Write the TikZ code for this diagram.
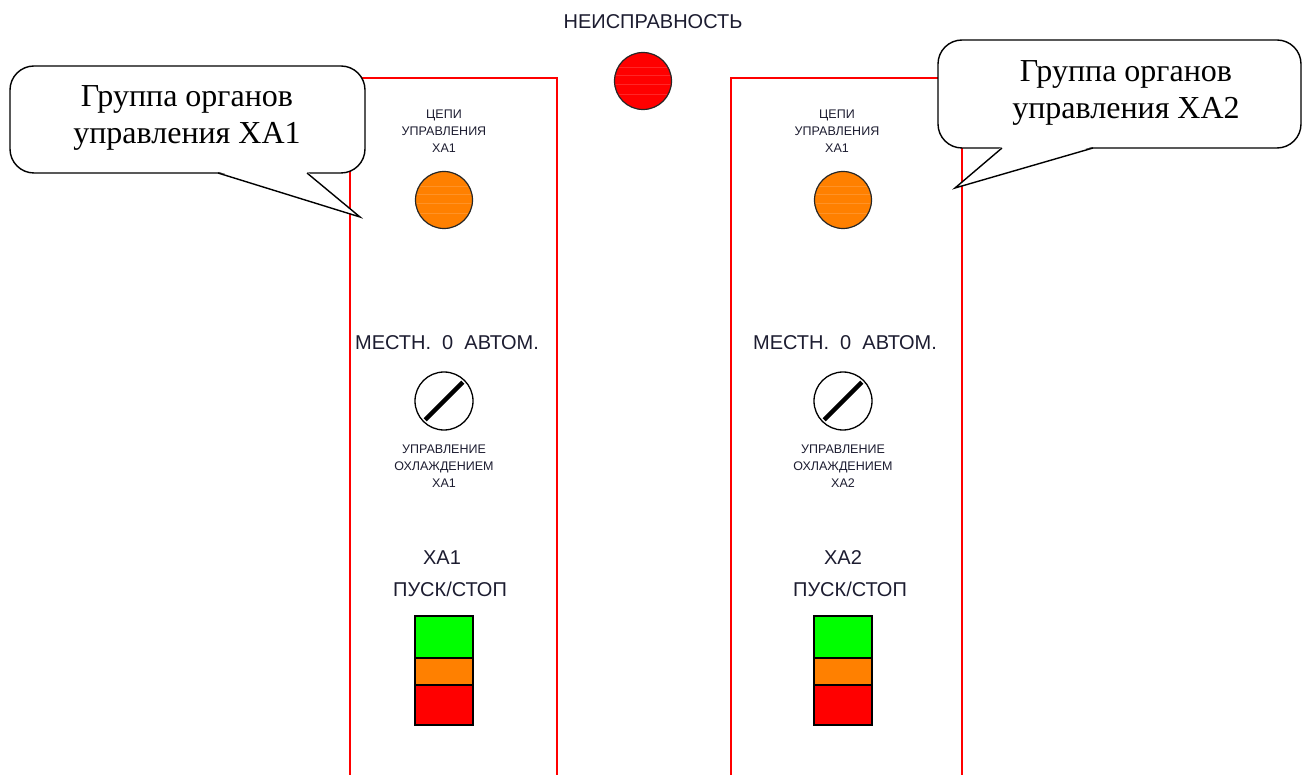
\documentclass[tikz,border=0pt]{standalone}
\usepackage{fontspec}
\setmainfont{Liberation Serif}
\newfontfamily\sansf{Liberation Sans}
\usetikzlibrary{calc}
\definecolor{ink}{RGB}{28,28,48}
\definecolor{lampred}{RGB}{255,0,0}
\definecolor{lamporange}{RGB}{255,128,0}
\definecolor{btngreen}{RGB}{0,255,0}
\definecolor{btnorange}{RGB}{255,128,0}
\definecolor{btnred}{RGB}{255,0,0}
\definecolor{panelred}{RGB}{255,0,0}
\begin{document}
\begin{tikzpicture}[x=1pt,y=-1pt,
  panel/.style={draw=panelred,line width=1.6pt},
  calloutbox/.style={draw=black,fill=white,line width=1.4pt,rounded corners=24pt,inner sep=0pt},
  callouttext/.style={font=\fontsize{32}{37}\selectfont,align=center,text=black},
  tailline/.style={draw=black,line width=1.4pt,line join=miter},
  lamp/.style={circle,draw=black!85,line width=1.2pt,minimum size=57pt,inner sep=0pt,
    path picture={\foreach \d in {-13,-3,6,14}{\draw[white,opacity=0.15,line width=0.7pt] ([yshift=\d pt]path picture bounding box.west) -- ([yshift=\d pt]path picture bounding box.east);}}},
  smalltext/.style={font=\sansf\fontsize{12.5}{17}\selectfont,align=center,text=ink},
  lbl/.style={font=\sansf\fontsize{20}{24}\selectfont,text=ink},
  switchbody/.style={circle,draw=black,line width=1.3pt,minimum size=58pt,inner sep=0pt,fill=white},
  switchbar/.style={line width=4.5pt,draw=black},
  btn/.style={draw=black,line width=1.8pt,minimum width=58pt,inner sep=0pt,outer sep=0pt,anchor=north},
]
\useasboundingbox (0,0) rectangle (1304,775);

% panels
\draw[panel] (350,776) -- (350,78) -- (557,78) -- (557,776);
\draw[panel] (731,776) -- (731,78) -- (962,78) -- (962,776);

% fault lamp
\node[lbl] (fault) at (653,22) {НЕИСПРАВНОСТЬ};
\node[lamp,fill=lampred] (L0) at (643,81) {};

% left group
\node[smalltext] (c1t) at (444,131) {ЦЕПИ\\УПРАВЛЕНИЯ\\ХА1};
\node[lamp,fill=lamporange] (L1) at (444,200) {};
\node[lbl] (m1) at (447,343) {МЕСТН.\ \ 0\ \ АВТОМ.};
\node[switchbody] (sw1) at (444,401) {};
\draw[switchbar] ($(sw1.center)!0.9!(sw1.225)$) -- ($(sw1.center)!0.9!(sw1.45)$);
\node[smalltext] (u1) at (444,466) {УПРАВЛЕНИЕ\\ОХЛАЖДЕНИЕМ\\ХА1};
\node[lbl] (x1) at (442,558) {ХА1};
\node[lbl] (p1) at (450,589) {ПУСК/СТОП};
\node[btn,fill=btngreen,minimum height=42pt] (g1) at (444,616) {};
\node[btn,fill=btnorange,minimum height=27pt] (o1) at (g1.south) {};
\node[btn,fill=btnred,minimum height=40pt] (r1) at (o1.south) {};

% right group
\node[smalltext] (c2t) at (837,131) {ЦЕПИ\\УПРАВЛЕНИЯ\\ХА1};
\node[lamp,fill=lamporange] (L2) at (843,200) {};
\node[lbl] (m2) at (845,343) {МЕСТН.\ \ 0\ \ АВТОМ.};
\node[switchbody] (sw2) at (843,401) {};
\draw[switchbar] ($(sw2.center)!0.9!(sw2.225)$) -- ($(sw2.center)!0.9!(sw2.45)$);
\node[smalltext] (u2) at (843,466) {УПРАВЛЕНИЕ\\ОХЛАЖДЕНИЕМ\\ХА2};
\node[lbl] (x2) at (843,558) {ХА2};
\node[lbl] (p2) at (850,589) {ПУСК/СТОП};
\node[btn,fill=btngreen,minimum height=42pt] (g2) at (843,616) {};
\node[btn,fill=btnorange,minimum height=27pt] (o2) at (g2.south) {};
\node[btn,fill=btnred,minimum height=40pt] (r2) at (o2.south) {};

% left callout
\node[calloutbox,minimum width=355pt,minimum height=107pt] (cb1) at (187.5,119.5) {};
\node[callouttext] (ct1) at (187,118) {Группа органов\\управления ХА1};
\coordinate (t1) at (360,217);
\coordinate (t1a) at (218,173);
\coordinate (t1b) at (307,173);
\fill[white] ($(t1a)+(0,-1.5)$) -- (t1) -- ($(t1b)+(0,-1.5)$) -- cycle;
\draw[tailline] (t1a) -- (t1) -- (t1b);

% right callout
\node[calloutbox,minimum width=363pt,minimum height=108pt] (cb2) at (1119.5,94) {};
\node[callouttext] (ct2) at (1126,93) {Группа органов\\управления ХА2};
\coordinate (t2) at (955,188);
\coordinate (t2a) at (1002,148);
\coordinate (t2b) at (1093,148);
\fill[white] ($(t2a)+(0,-1.5)$) -- (t2) -- ($(t2b)+(0,-1.5)$) -- cycle;
\draw[tailline] (t2a) -- (t2) -- (t2b);
\end{tikzpicture}
\end{document}
